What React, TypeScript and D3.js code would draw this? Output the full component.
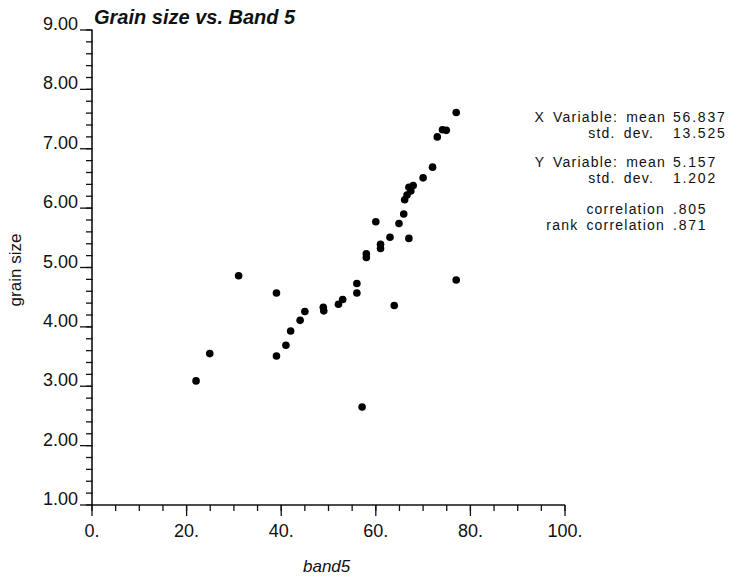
import React, { useEffect, useRef } from 'react';
import * as d3 from 'd3';

// band5 (x) and grain size (y), one entry per sample
const band5 = [
  22.0, 24.9, 31.0, 39.0, 39.0, 41.0, 42.0, 44.0, 45.0, 48.9,
  49.0, 52.1, 53.0, 56.0, 56.0, 57.1, 58.0, 58.0, 60.0, 61.0,
  61.0, 63.0, 63.9, 64.9, 65.9, 67.0, 66.1, 66.6, 67.0, 67.9,
  67.4, 70.0, 72.0, 73.0, 74.1, 74.9, 77.0, 77.0,
];
const grainSize = [
  3.09, 3.55, 4.86, 4.57, 3.51, 3.69, 3.93, 4.11, 4.26, 4.33,
  4.27, 4.38, 4.46, 4.73, 4.57, 2.65, 5.23, 5.17, 5.77, 5.39,
  5.32, 5.51, 4.36, 5.74, 5.90, 5.49, 6.14, 6.22, 6.35, 6.38,
  6.29, 6.51, 6.69, 7.20, 7.32, 7.31, 7.61, 4.79,
];

const xTicks = [0, 20, 40, 60, 80, 100];
const xTickLabels = ['0.', '20.', '40.', '60.', '80.', '100.'];
const yTicks = [1, 2, 3, 4, 5, 6, 7, 8, 9];
const yTickLabels = ['1.00', '2.00', '3.00', '4.00', '5.00', '6.00', '7.00', '8.00', '9.00'];

const statLabels = [
  'X Variable: mean', 'std. dev.',
  'Y Variable: mean', 'std. dev.',
  'correlation', 'rank correlation',
];
const statValues = ['56.837', '13.525', '5.157', '1.202', '.805', '.871'];

const FONT = '"Liberation Sans", Arial, Helvetica, sans-serif';

const App = () => {
  const ref = useRef<SVGSVGElement>(null);

  useEffect(() => {
    const svg = d3.select(ref.current);
    svg.selectAll('*').remove();
    svg.attr('width', 738).attr('height', 578);

    const x = d3.scaleLinear().domain([0, 100]).range([92, 565]);
    const y = d3.scaleLinear().domain([1, 9]).range([505, 30]);

    const g = svg.append('g').attr('font-family', FONT).attr('fill', '#111');

    // axis lines
    g.append('line').attr('x1', x(0)).attr('x2', x(0)).attr('y1', y(9)).attr('y2', y(1))
      .attr('stroke', '#111').attr('stroke-width', 1.6);
    g.append('line').attr('x1', x(0)).attr('x2', x(100)).attr('y1', y(1)).attr('y2', y(1))
      .attr('stroke', '#111').attr('stroke-width', 1.6);

    // y minor + major ticks
    const yMinor = d3.range(1, 9.001, 0.2);
    g.selectAll('.ymin').data(yMinor).enter().append('line')
      .attr('x1', x(0) - 6).attr('x2', x(0) + 0.5)
      .attr('y1', (d) => y(d)).attr('y2', (d) => y(d))
      .attr('stroke', '#111').attr('stroke-width', 1.3);
    g.selectAll('.ymaj').data(yTicks).enter().append('line')
      .attr('x1', x(0) - 12).attr('x2', x(0))
      .attr('y1', (d) => y(d)).attr('y2', (d) => y(d))
      .attr('stroke', '#111').attr('stroke-width', 1.3);
    g.selectAll('.ylab').data(yTicks).enter().append('text')
      .attr('x', x(0) - 14).attr('y', (d) => y(d))
      .attr('text-anchor', 'end').attr('font-size', 18)
      .text((d, i) => yTickLabels[i]);

    // x minor + major ticks
    const xMinor = d3.range(0, 100.001, 5);
    g.selectAll('.xmin').data(xMinor).enter().append('line')
      .attr('x1', (d) => x(d)).attr('x2', (d) => x(d))
      .attr('y1', y(1)).attr('y2', y(1) + 6)
      .attr('stroke', '#111').attr('stroke-width', 1.3);
    g.selectAll('.xmaj').data(xTicks).enter().append('line')
      .attr('x1', (d) => x(d)).attr('x2', (d) => x(d))
      .attr('y1', y(1)).attr('y2', y(1) + 11)
      .attr('stroke', '#111').attr('stroke-width', 1.3);
    g.selectAll('.xlab').data(xTicks).enter().append('text')
      .attr('x', (d) => x(d)).attr('y', 537)
      .attr('text-anchor', 'middle').attr('font-size', 18)
      .text((d, i) => xTickLabels[i]);

    // points
    g.selectAll('.pt').data(band5).enter().append('circle')
      .attr('cx', (d) => x(d)).attr('cy', (d, i) => y(grainSize[i]))
      .attr('r', 3.8).attr('fill', '#000');

    // titles
    g.append('text').attr('x', 94).attr('y', 24)
      .attr('font-size', 20).attr('font-weight', 'bold').attr('font-style', 'italic')
      .text('Grain size vs. Band 5');
    g.append('text').attr('transform', 'translate(21,270) rotate(-90)')
      .attr('text-anchor', 'middle').attr('font-size', 17)
      .text('grain size');
    g.append('text').attr('x', 303).attr('y', 572)
      .attr('font-size', 17).attr('font-style', 'italic')
      .text('band5');

    // statistics block: labels right-aligned, values in one column
    const statY = [122, 138, 167, 183, 214, 230];
    const statEnd = [666, 654, 666, 654, 665, 665];
    g.selectAll('.slab').data(statLabels).enter().append('text')
      .attr('x', (d, i) => statEnd[i]).attr('y', (d, i) => statY[i])
      .attr('text-anchor', 'end').attr('font-size', 14)
      .attr('letter-spacing', 1.2).attr('word-spacing', 3)
      .text((d) => d);
    g.selectAll('.sval').data(statValues).enter().append('text')
      .attr('x', 673).attr('y', (d, i) => statY[i])
      .attr('font-size', 14).attr('letter-spacing', 1.8)
      .text((d) => d);
  }, []);

  return <svg ref={ref} style={{ position: 'absolute', left: 0, top: 0, background: '#fff' }}></svg>;
};

export default App;
